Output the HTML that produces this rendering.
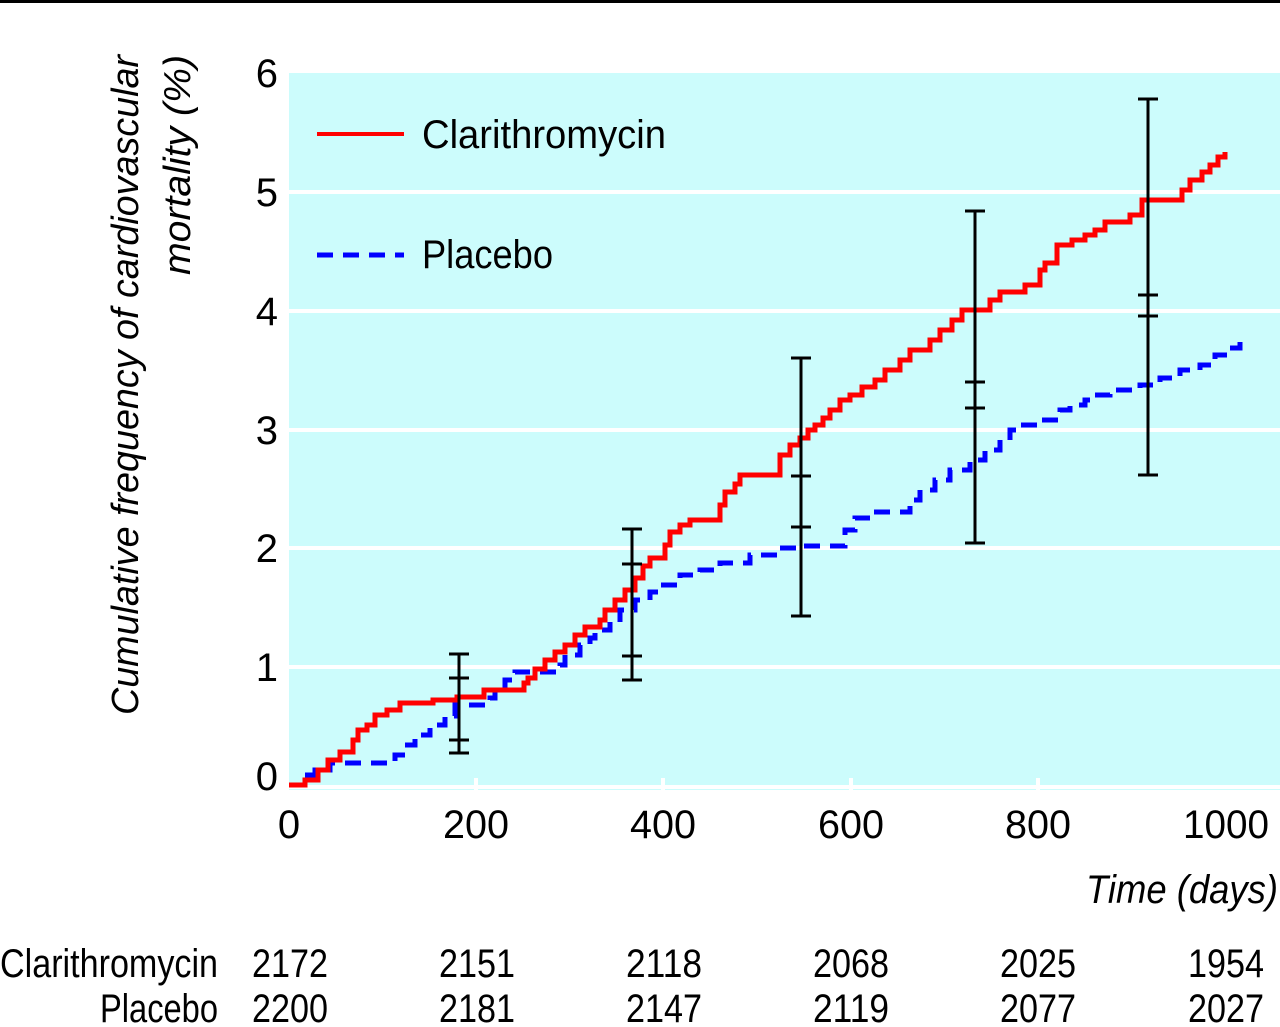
<!DOCTYPE html>
<html><head><meta charset="utf-8"><style>
html,body{margin:0;padding:0;background:#fff;}
svg{display:block;}
text{font-family:"Liberation Sans",sans-serif;fill:#000;}
</style></head><body>
<svg width="1280" height="1027" viewBox="0 0 1280 1027" xmlns="http://www.w3.org/2000/svg">
<rect x="0" y="0" width="1280" height="3" fill="#000"/>
<rect x="289" y="73" width="991" height="717" fill="#ccfcfc"/>
<g stroke="#fff" stroke-width="4">
<line x1="289" y1="192" x2="1280" y2="192"/>
<line x1="289" y1="311" x2="1280" y2="311"/>
<line x1="289" y1="430" x2="1280" y2="430"/>
<line x1="289" y1="548" x2="1280" y2="548"/>
<line x1="289" y1="667" x2="1280" y2="667"/>
<line x1="289" y1="787" x2="1280" y2="787"/>
<line x1="476" y1="778" x2="476" y2="790"/><line x1="663" y1="778" x2="663" y2="790"/>
<line x1="851" y1="778" x2="851" y2="790"/><line x1="1038" y1="778" x2="1038" y2="790"/>
</g>
<path fill="none" stroke="#0000ff" stroke-width="5" stroke-dasharray="16,10" d="M289,785 H305 V775 H315 V770 H330 V763 H395 V755 H405 V745 H415 V735 H430 V725 H445 V716 H455 V705 H490 V698 H495 V690 H505 V680 H515 V672 H560 V665 H565 V655 H580 V645 H590 V638 H595 V630 H610 V622 H620 V610 H635 V600 H650 V592 H660 V585 H680 V575 H700 V570 H720 V563 H750 V555 H780 V548 H800 V546 H845 V530 H855 V518 H870 V512 H910 V500 H920 V490 H935 V480 H950 V470 H970 V460 H985 V450 H1000 V440 H1010 V430 H1020 V425 H1040 V420 H1060 V410 H1070 V405 H1085 V400 H1095 V395 H1110 V390 H1140 V385 H1160 V378 H1180 V370 H1200 V365 H1215 V355 H1230 V348 H1240 V342"/>
<path fill="none" stroke="#ff0000" stroke-width="5" d="M289,785 H305 V780 H318 V770 H328 V760 H340 V752 H353 V740 H358 V730 H367 V725 H375 V715 H387 V710 H400 V703 H433 V700 H457 V697 H484 V690 H524 V683 H528 V678 H535 V669 H545 V660 H555 V652 H565 V645 H575 V635 H585 V627 H600 V620 H605 V610 H615 V600 H625 V590 H635 V578 H643 V566 H650 V558 H665 V545 H670 V532 H680 V525 H690 V520 H720 V505 H725 V492 H735 V484 H740 V475 H780 V455 H790 V445 H800 V438 H808 V430 H815 V425 H823 V418 H830 V410 H840 V400 H850 V395 H862 V387 H875 V380 H885 V370 H900 V360 H910 V350 H930 V340 H940 V330 H952 V320 H962 V310 H990 V300 H1000 V292 H1025 V285 H1040 V270 H1045 V263 H1057 V245 H1072 V240 H1085 V235 H1095 V230 H1105 V222 H1130 V215 H1142 V200 H1182 V190 H1190 V180 H1202 V172 H1210 V165 H1218 V157 H1225 V152"/>
<g stroke="#000" stroke-width="3">
<line x1="459" y1="654" x2="459" y2="753"/><line x1="449" y1="654" x2="469" y2="654"/><line x1="449" y1="678" x2="469" y2="678"/><line x1="449" y1="740" x2="469" y2="740"/><line x1="449" y1="753" x2="469" y2="753"/>
<line x1="632" y1="529" x2="632" y2="680"/><line x1="622" y1="529" x2="642" y2="529"/><line x1="622" y1="564" x2="642" y2="564"/><line x1="622" y1="656" x2="642" y2="656"/><line x1="622" y1="680" x2="642" y2="680"/>
<line x1="801" y1="358" x2="801" y2="616"/><line x1="791" y1="358" x2="811" y2="358"/><line x1="791" y1="476" x2="811" y2="476"/><line x1="791" y1="527" x2="811" y2="527"/><line x1="791" y1="616" x2="811" y2="616"/>
<line x1="975" y1="211" x2="975" y2="543"/><line x1="965" y1="211" x2="985" y2="211"/><line x1="965" y1="382" x2="985" y2="382"/><line x1="965" y1="408" x2="985" y2="408"/><line x1="965" y1="543" x2="985" y2="543"/>
<line x1="1148" y1="99" x2="1148" y2="475"/><line x1="1138" y1="99" x2="1158" y2="99"/><line x1="1138" y1="295" x2="1158" y2="295"/><line x1="1138" y1="316" x2="1158" y2="316"/><line x1="1138" y1="475" x2="1158" y2="475"/>
</g>
<line x1="317" y1="134" x2="404" y2="134" stroke="#ff0000" stroke-width="4"/>
<line x1="317" y1="255" x2="404" y2="255" stroke="#0000ff" stroke-width="5" stroke-dasharray="16,10"/>
<text x="422" y="148" font-size="40" textLength="244" lengthAdjust="spacingAndGlyphs">Clarithromycin</text>
<text x="422" y="268" font-size="40" textLength="131" lengthAdjust="spacingAndGlyphs">Placebo</text>
<g font-size="40" text-anchor="end">
<text x="278" y="87">6</text><text x="278" y="206">5</text><text x="278" y="325">4</text>
<text x="278" y="444">3</text><text x="278" y="562">2</text><text x="278" y="681">1</text><text x="278" y="790">0</text>
</g>
<g font-size="40" text-anchor="middle">
<text x="289" y="838">0</text><text x="476" y="838" textLength="66" lengthAdjust="spacingAndGlyphs">200</text>
<text x="663" y="838" textLength="66" lengthAdjust="spacingAndGlyphs">400</text><text x="851" y="838" textLength="66" lengthAdjust="spacingAndGlyphs">600</text>
<text x="1038" y="838" textLength="66" lengthAdjust="spacingAndGlyphs">800</text><text x="1226" y="838" textLength="86" lengthAdjust="spacingAndGlyphs">1000</text>
</g>
<text x="1278" y="903" font-size="40" font-style="italic" text-anchor="end" textLength="192" lengthAdjust="spacingAndGlyphs">Time (days)</text>
<g transform="translate(138,55) rotate(-90)"><text x="0" y="0" font-size="38" font-style="italic" text-anchor="end" textLength="660" lengthAdjust="spacingAndGlyphs">Cumulative frequency of cardiovascular</text></g>
<g transform="translate(190,55) rotate(-90)"><text x="0" y="0" font-size="38" font-style="italic" text-anchor="end" textLength="220" lengthAdjust="spacingAndGlyphs">mortality (%)</text></g>
<g font-size="40">
<text x="0" y="977" textLength="218" lengthAdjust="spacingAndGlyphs">Clarithromycin</text>
<text x="218" y="1022" text-anchor="end" textLength="118" lengthAdjust="spacingAndGlyphs">Placebo</text>
</g>
<g font-size="40" text-anchor="middle">
<text x="290" y="977" textLength="76" lengthAdjust="spacingAndGlyphs">2172</text><text x="477" y="977" textLength="76" lengthAdjust="spacingAndGlyphs">2151</text>
<text x="664" y="977" textLength="76" lengthAdjust="spacingAndGlyphs">2118</text><text x="851" y="977" textLength="76" lengthAdjust="spacingAndGlyphs">2068</text>
<text x="1038" y="977" textLength="76" lengthAdjust="spacingAndGlyphs">2025</text><text x="1226" y="977" textLength="76" lengthAdjust="spacingAndGlyphs">1954</text>
<text x="290" y="1022" textLength="76" lengthAdjust="spacingAndGlyphs">2200</text><text x="477" y="1022" textLength="76" lengthAdjust="spacingAndGlyphs">2181</text>
<text x="664" y="1022" textLength="76" lengthAdjust="spacingAndGlyphs">2147</text><text x="851" y="1022" textLength="76" lengthAdjust="spacingAndGlyphs">2119</text>
<text x="1038" y="1022" textLength="76" lengthAdjust="spacingAndGlyphs">2077</text><text x="1226" y="1022" textLength="76" lengthAdjust="spacingAndGlyphs">2027</text>
</g>
</svg>
</body></html>
